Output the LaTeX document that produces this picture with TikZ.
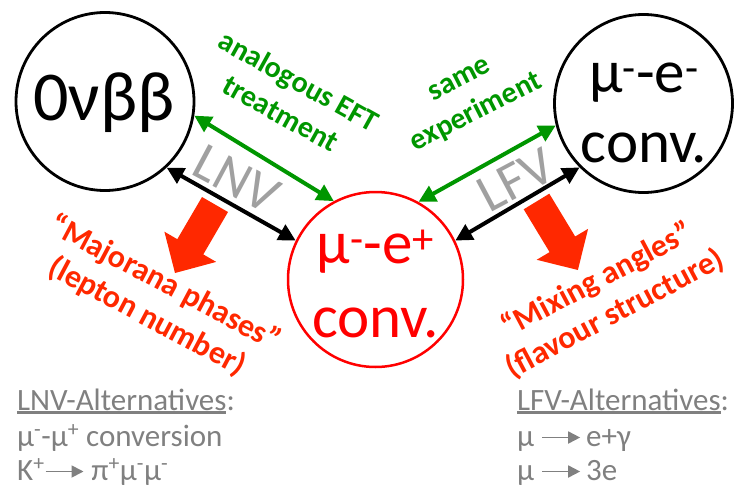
\documentclass[tikz,border=0pt]{standalone}
\usepackage{fontspec}
\setmainfont{Carlito}
\usetikzlibrary{arrows.meta}
\definecolor{grn}{RGB}{0,150,0}
\definecolor{rd}{RGB}{255,0,0}
\definecolor{ora}{RGB}{255,40,0}
\definecolor{lbl}{RGB}{160,160,160}
\definecolor{txtg}{RGB}{128,128,128}
\newcommand\fs[2]{\fontsize{#1}{#2}\selectfont}
\newcommand\myul[1]{\setbox0\hbox{#1}\rlap{\color{txtg}\rule[-3.5pt]{\wd0}{2.2pt}}\box0}
\newcommand\larrow{\tikz[baseline={(0pt,-8.5pt)}]\draw[txtg,line width=1.8pt,-{Triangle[length=12pt,width=12pt]}](0pt,0pt)--(38pt,0pt);}
\begin{document}
\begin{tikzpicture}[x=1pt,y=-1pt,
  circ/.style={circle,minimum size=178pt,line width=2.8pt,draw=black,inner sep=0pt},
  redcirc/.style={circle,minimum size=175pt,line width=2.5pt,draw=rd,inner sep=0pt},
  dbl/.style={line width=4pt,{Triangle[length=17pt,width=17pt]}-{Triangle[length=17pt,width=17pt]}},
  grnarr/.style={dbl,draw=grn},
  blkarr/.style={dbl,draw=black},
  big/.style={font=\fs{61}{61},anchor=base},
  tag/.style={lbl,font=\fs{54}{54}},
  gtext/.style={grn,font=\bfseries\fs{30}{37},align=center},
  rtext/.style={ora,font=\bfseries\fs{32}{38},align=center},
  alt/.style={txtg,font=\fs{31}{31},anchor=base west,inner sep=0pt}
]
\useasboundingbox (0,0) rectangle (734,490);
% circles
\node[circ] (ovbb) at (105,101.5) {};
\node[circ] (mue) at (643.5,103.5) {};
\node[redcirc] (mep) at (375.5,279.5) {};
% circle texts
\node[font=\fs{70}{70},anchor=base] (t0) at (104,120) {0νββ};
\node[big] (t1) at (644,92) {μ\textsuperscript{-}-e\textsuperscript{-}};
\node[big] (t2) at (644,162) {conv.};
\node[big,rd] (t3) at (375.5,263) {μ\textsuperscript{-}-e\textsuperscript{+}};
\node[big,rd] (t4) at (375.5,337) {conv.};
% connectors
\draw[grnarr] (ovbb.-9) -- (mep.118);
\draw[blkarr] (ovbb.-47) -- (mep.154);
\draw[grnarr] (mep.61) -- (mue.194);
\draw[blkarr] (mep.26) -- (mue.225);
% labels
\node[tag,rotate=-28] (lnv) at (237,179) {LNV};
\node[tag,rotate=28] (lfv) at (516,180) {LFV};
\node[gtext,rotate=-29] (aeft) at (290,97) {analogous EFT\\treatment};
\node[gtext,rotate=27] (same) at (469,98) {same\\experiment};
% red block arrows
\fill[ora] (202,197) -- (228,212) -- (203.3,254.4) -- (216.2,261.9) -- (175,273) -- (164.4,231.7) -- (177.3,239.2) -- cycle;
\fill[ora] (549.3,193.7) -- (575.2,236.5) -- (588.1,228.8) -- (577.9,270) -- (536.7,259.8) -- (549.6,252.1) -- (523.7,209.3) -- cycle;
\node[rtext,rotate=-28] (maj) at (156,300) {“Majorana phases”\\(lepton number)};
\node[rtext,rotate=28] (mix) at (606,297) {“Mixing angles”\\(flavour structure)};
% alternatives
\node[alt] (la) at (17,410) {\myul{LNV-Alternatives}:};
\node[alt] (l1) at (17,446) {μ\textsuperscript{-}-μ\textsuperscript{+} conversion};
\node[alt] (l2) at (17,480) {K\textsuperscript{+}\larrow\ π\textsuperscript{+}μ\textsuperscript{-}μ\textsuperscript{-}};
\node[alt] (ra) at (517,410) {\myul{LFV-Alternatives}:};
\node[alt] (r1) at (517,446) {μ \larrow\,e+γ};
\node[alt] (r2) at (517,480) {μ \larrow\,3e};
\end{tikzpicture}
\end{document}
